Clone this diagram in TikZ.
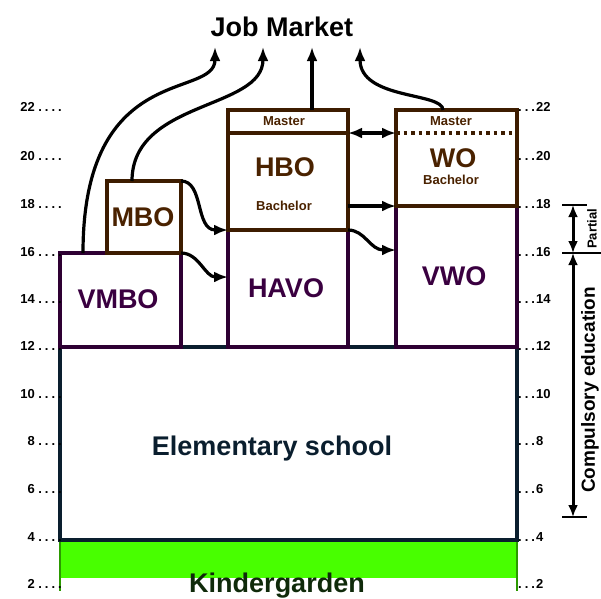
\documentclass[tikz,border=0pt]{standalone}
\usepackage{fontspec}
\setmainfont{Liberation Sans}
\usepackage{xcolor}
\usetikzlibrary{arrows.meta}
\definecolor{navy}{HTML}{0A1E2E}
\definecolor{vpurple}{HTML}{2E0033}
\definecolor{tpurple}{HTML}{3A0040}
\definecolor{hbrown}{HTML}{3D1C00}
\definecolor{tbrown}{HTML}{4A2200}
\definecolor{kgreen}{HTML}{48FF00}
\definecolor{kdark}{HTML}{0F2A0A}

\begin{document}
\begin{tikzpicture}[x=1pt, y=-1pt,
  box/.style={draw, line width=3.4pt, inner sep=0pt, outer sep=0pt},
  big/.style={font=\fontsize{27}{29}\selectfont\bfseries, anchor=base, inner sep=0pt},
  tag/.style={font=\fontsize{13}{15}\selectfont\bfseries, anchor=base, inner sep=0pt},
  age/.style={font=\fontsize{13}{15}\selectfont\bfseries, inner sep=0pt},
  flow/.style={line width=3.2pt, -{Latex[length=14pt,width=11pt]}}]
  \useasboundingbox (0,0) rectangle (601,598);

  % schools
  \node[fill=kgreen, minimum width=457, minimum height=38, inner sep=0pt, outer sep=0pt] (kg) at (288.5,559) {};
  \draw[kgreen!60!black, line width=1.6pt] (kg.north west) -- ++(0,51) (kg.north east) -- ++(0,51);
  \node[box, draw=navy, minimum width=457, minimum height=193] (elem) at (288.5,443.5) {};
  \node[box, draw=vpurple, minimum width=121, minimum height=94] (vmbo) at (120.5,300) {};
  \node[box, draw=hbrown, minimum width=74, minimum height=72] (mbo) at (144,217) {};
  \node[box, draw=vpurple, minimum width=120, minimum height=117] (havo) at (288,288.5) {};
  \node[box, draw=hbrown, minimum width=120, minimum height=120] (hbo) at (288,170) {};
  \node[box, draw=vpurple, minimum width=121, minimum height=141] (vwo) at (456.5,276.5) {};
  \node[box, draw=hbrown, minimum width=121, minimum height=96] (wo) at (456.5,158) {};
  \coordinate (hml) at (228,133);
  \coordinate (hmr) at (348,133);
  \coordinate (wml) at (396,133);
  \coordinate (wmr) at (517,133);
  \draw[hbrown, line width=3.4pt] (hml) -- (hmr);
  \draw[hbrown, line width=3.4pt, dash pattern=on 3.5pt off 4pt] (wml) -- (wmr);

  \node[big, text=navy] (elemt) at (272,455) {Elementary school};
  \node[big, text=kdark] (kgt) at (277,592) {Kindergarden};
  \node[big, text=tpurple] (vmbot) at (118,308) {VMBO};
  \node[big, text=tbrown] (mbot) at (143,226) {MBO};
  \node[big, text=tpurple] (havot) at (286,297) {HAVO};
  \node[big, text=tbrown] (hbot) at (285,176) {HBO};
  \node[big, text=tpurple] (vwot) at (454,285) {VWO};
  \node[big, text=tbrown] (wot) at (453,167) {WO};
  \node[tag, text=tbrown] (hbom) at (284,125) {Master};
  \node[tag, text=tbrown] (hbob) at (284,210) {Bachelor};
  \node[tag, text=tbrown] (wom) at (451,125) {Master};
  \node[tag, text=tbrown] (wob) at (451,184) {Bachelor};

  % ages
  \foreach \a/\y in {22/108,20/157,18/205,16/253,14/300,12/347,10/395,8/442,6/490,4/538,2/585} {
    \node[age, anchor=base east] (l\a) at (62,\y+3) {\a\ .\kern3pt.\kern3pt.\kern3pt.};
    \node[age, anchor=base west] (r\a) at (518,\y+3) {.\kern3pt.\kern3pt.\kern1pt\a};
  }

  % job market
  \node[big, text=black] (job) at (282,36) {Job Market};
  \coordinate (j1) at (215,47);
  \coordinate (j2) at (263,47);
  \coordinate (j3) at (312,47);
  \coordinate (j4) at (360,47);
  \draw[flow] ([xshift=23pt]vmbo.north west) .. controls +(0,-193) and +(0,53) .. (j1);
  \draw[flow] ([xshift=25pt]mbo.north west) .. controls +(0,-81) and +(0,63) .. (j2);
  \draw[flow] ([xshift=24pt]hbo.north) -- (j3);
  \draw[flow] ([xshift=-13.5pt]wo.north) .. controls +(0,-18) and +(0,53) .. (j4);

  % transfers
  \draw[flow] (mbo.north east) .. controls +(23,0) and +(-33,0) .. (hbo.south west);
  \draw[flow] (vmbo.north east) .. controls +(18,0) and +(-23,0) .. ([yshift=-47pt]havo.north west);
  \draw[flow] (havo.north east) .. controls +(17,0) and +(-26,0) .. ([yshift=-44pt]vwo.north west);
  \draw[flow] (vwo.north west -| hbo.east) -- (vwo.north west);
  \draw[flow, {Latex[length=14pt,width=11pt]}-{Latex[length=14pt,width=11pt]}] (hmr) -- (wml);

  % compulsory education
  \coordinate (ct) at (573,205);
  \coordinate (cm) at (573,253);
  \coordinate (cb) at (573,517);
  \draw[line width=2.6pt] (562,205) -- (587,205) (562,253) -- (601,253) (562,517) -- (587,517);
  \draw[line width=3pt, {Latex[length=12pt,width=10pt]}-{Latex[length=12pt,width=10pt]}] (ct) -- (cm);
  \draw[line width=3pt, {Latex[length=12pt,width=10pt]}-{Latex[length=12pt,width=10pt]}] (cm) -- (cb);
  \node[font=\fontsize{13}{15}\selectfont\bfseries, rotate=90, anchor=north, inner sep=0pt] (part) at (587,229) {Partial};
  \node[font=\fontsize{19}{21}\selectfont\bfseries, rotate=90, anchor=north, inner sep=0pt] (comp) at (581,390) {Compulsory education};
\end{tikzpicture}
\end{document}
